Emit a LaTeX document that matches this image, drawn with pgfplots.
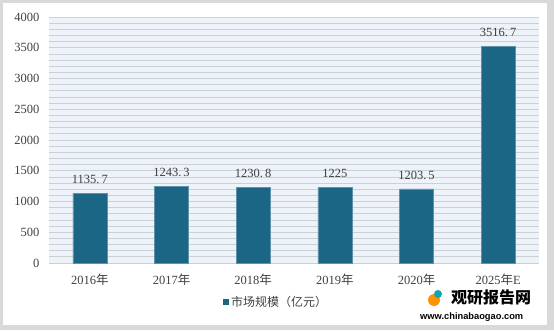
\documentclass[border=0pt]{standalone}
\usepackage{pgfplots}
\pgfplotsset{compat=1.18}
\usepackage{fontspec}
\setmainfont{Liberation Serif}
\newfontfamily\cjk{Noto Sans CJK SC}
\newfontfamily\sans{Liberation Sans}
\definecolor{barc}{HTML}{1B6585}
\definecolor{bgc}{HTML}{EDF3F8}
\definecolor{gridc}{HTML}{C9D0D6}
\definecolor{framec}{HTML}{D9D9D9}
\definecolor{txtc}{HTML}{404040}
\begin{document}
\begin{tikzpicture}[x=1pt,y=1pt]
\fill[framec] (0,0) rectangle (554,330);
\fill[white] (3,5) rectangle (547,327);
\begin{axis}[
  at={(49pt,67pt)}, anchor=south west,
  scale only axis, width=490pt, height=246pt,
  xmin=-0.5, xmax=5.5, ymin=0, ymax=4000,
  axis background/.style={fill=bgc},
  axis line style={draw=none},
  xtick=data,
  xticklabels={2016{\cjk 年},2017{\cjk 年},2018{\cjk 年},2019{\cjk 年},2020{\cjk 年},2025{\cjk 年}E},
  ytick={0,500,...,4000},
  minor y tick num=4,
  ymajorgrids, yminorgrids,
  grid style={draw=gridc, line width=0.8pt},
  minor grid style={draw=gridc, line width=0.8pt},
  major tick length=0pt, minor tick length=0pt,
  tick label style={font=\fontsize{12.5}{13}\selectfont, text=txtc},
  /pgf/number format/assume math mode=true,
  /pgf/number format/1000 sep={},
  xticklabel style={yshift=-7pt},
  yticklabel style={xshift=-6pt},
  ybar, bar width=34pt,
  nodes near coords,
  nodes near coords style={font=\fontsize{12.5}{13}\selectfont, text=txtc, yshift=6pt},
  point meta=explicit symbolic,
  clip=false,
]
\addplot[fill=barc, draw=barc!70!white, line width=0.5pt] coordinates {
  (0,1135.7) [1135.\,7]
  (1,1243.3) [1243.\,3]
  (2,1230.8) [1230.\,8]
  (3,1225) [1225]
  (4,1203.5) [1203.\,5]
  (5,3516.7) [3516.\,7]
};
\end{axis}
\fill[barc] (223,25) rectangle (229,31);
\node[anchor=west, text=txtc, font=\cjk\fontsize{12}{13}\selectfont, inner sep=0pt] at (231,28) {市场规模（亿元）};
\node[anchor=west, font=\cjk\bfseries\fontsize{16}{18}\selectfont, inner sep=0pt] at (451,33) {观研报告网};
\node[anchor=west, font=\sans\bfseries\fontsize{9.3}{10}\selectfont, inner sep=0pt] at (420,13) {www.chinabaogao.com};
\fill[orange!85!yellow] (434,30) circle (6pt);
\fill[barc!60!cyan] (438,36) circle (4pt);
\end{tikzpicture}
\end{document}
